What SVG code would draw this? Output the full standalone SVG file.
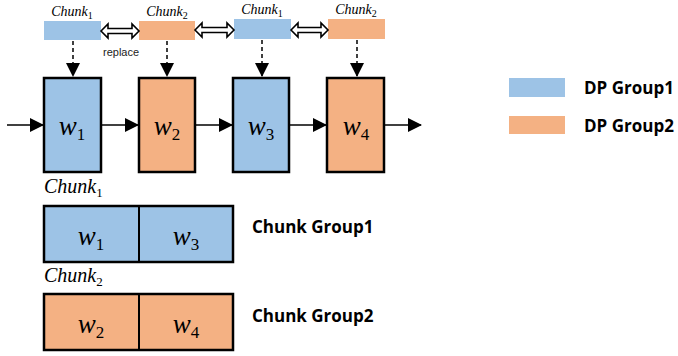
<svg xmlns="http://www.w3.org/2000/svg" width="678" height="356" viewBox="0 0 678 356">
<style>
.blue{fill:#9DC3E6}
.orange{fill:#F4B183}
.box{stroke:#000;stroke-width:2.5}
.math{font-family:"Liberation Serif","DejaVu Serif",serif;font-style:italic;fill:#000}
.w{font-size:27px;text-anchor:middle}
.sub{font-size:17px;font-style:normal}
.cl{font-size:14px}
.cl2{font-size:20px}
.lbl{font-family:"Open Sans","Liberation Sans",sans-serif;font-weight:bold;font-size:17px;fill:#000}
.dash{stroke:#000;stroke-width:1.5;stroke-dasharray:4,3;fill:none}
.line{stroke:#000;stroke-width:1.5;fill:none}
.dbl{fill:#fff;stroke:#000;stroke-width:1.6}
</style>
<defs>
<marker id="ah2" markerWidth="14" markerHeight="14" refX="13" refY="7" orient="auto" markerUnits="userSpaceOnUse" viewBox="0 0 14 14">
<path d="M0,0 L14,7 L0,14 Z" fill="#000"/>
</marker>
</defs>

<g id="chunk-bars">
<g id="bar1"><rect class="blue" x="44" y="21" width="57" height="19"/><text class="math cl" x="72" y="16" text-anchor="middle">Chunk<tspan font-size="10" font-style="normal" dy="3">1</tspan></text></g>
<g id="bar2"><rect class="orange" x="139" y="21" width="56" height="19"/><text class="math cl" x="167" y="16" text-anchor="middle">Chunk<tspan font-size="10" font-style="normal" dy="3">2</tspan></text></g>
<g id="bar3"><rect class="blue" x="234" y="19" width="57" height="20"/><text class="math cl" x="262" y="14" text-anchor="middle">Chunk<tspan font-size="10" font-style="normal" dy="3">1</tspan></text></g>
<g id="bar4"><rect class="orange" x="328" y="19" width="57" height="20"/><text class="math cl" x="356" y="14" text-anchor="middle">Chunk<tspan font-size="10" font-style="normal" dy="3">2</tspan></text></g>
</g>

<g id="w-boxes">
<g id="w1"><rect class="blue box" x="44" y="78" width="57" height="94"/><text class="math w" x="72" y="135">w<tspan class="sub" dy="5">1</tspan></text></g>
<g id="w2"><rect class="orange box" x="139" y="78" width="56" height="94"/><text class="math w" x="167" y="135">w<tspan class="sub" dy="5">2</tspan></text></g>
<g id="w3"><rect class="blue box" x="233" y="78" width="56" height="94"/><text class="math w" x="261" y="135">w<tspan class="sub" dy="5">3</tspan></text></g>
<g id="w4"><rect class="orange box" x="327" y="78" width="57" height="94"/><text class="math w" x="356" y="135">w<tspan class="sub" dy="5">4</tspan></text></g>
</g>

<g id="connectors">
<path class="dbl" d="M101,31 L108,24 L108,28.5 L132,28.5 L132,24 L139,31 L132,38 L132,33.5 L108,33.5 L108,38 Z"/>
<path class="dbl" d="M195,30 L202,23 L202,27.5 L227,27.5 L227,23 L234,30 L227,37 L227,32.5 L202,32.5 L202,37 Z"/>
<path class="dbl" d="M291,30 L298,23 L298,27.5 L321,27.5 L321,23 L328,30 L321,37 L321,32.5 L298,32.5 L298,37 Z"/>
<text x="103" y="56" font-family="'Liberation Sans',Arial,sans-serif" font-size="11" fill="#222">replace</text>
<line class="dash" x1="73" y1="41" x2="73" y2="76" marker-end="url(#ah2)"/>
<line class="dash" x1="167" y1="41" x2="167" y2="76" marker-end="url(#ah2)"/>
<line class="dash" x1="262" y1="40" x2="262" y2="76" marker-end="url(#ah2)"/>
<line class="dash" x1="357" y1="40" x2="357" y2="76" marker-end="url(#ah2)"/>
<line class="line" x1="7" y1="125" x2="43" y2="125" marker-end="url(#ah2)"/>
<line class="line" x1="102" y1="125" x2="138" y2="125" marker-end="url(#ah2)"/>
<line class="line" x1="196" y1="125" x2="232" y2="125" marker-end="url(#ah2)"/>
<line class="line" x1="290" y1="125" x2="326" y2="125" marker-end="url(#ah2)"/>
<line class="line" x1="385" y1="125" x2="421" y2="125" marker-end="url(#ah2)"/>
</g>

<g id="chunk-group1">
<text class="math cl2" x="44" y="193">Chunk<tspan font-size="13" font-style="normal" dy="4">1</tspan></text>
<rect class="blue box" x="44" y="206" width="189" height="56"/>
<line x1="139" y1="206" x2="139" y2="262" stroke="#000" stroke-width="2"/>
<text class="math w" x="91" y="245">w<tspan class="sub" dy="5">1</tspan></text>
<text class="math w" x="186" y="245">w<tspan class="sub" dy="5">3</tspan></text>
<text class="lbl" x="252" y="233">Chunk Group1</text>
</g>

<g id="chunk-group2">
<text class="math cl2" x="44" y="282">Chunk<tspan font-size="13" font-style="normal" dy="4">2</tspan></text>
<rect class="orange box" x="44" y="294" width="189" height="56"/>
<line x1="139" y1="294" x2="139" y2="350" stroke="#000" stroke-width="2"/>
<text class="math w" x="91" y="333">w<tspan class="sub" dy="5">2</tspan></text>
<text class="math w" x="186" y="333">w<tspan class="sub" dy="5">4</tspan></text>
<text class="lbl" x="252" y="322">Chunk Group2</text>
</g>

<g id="legend">
<g id="dp1"><rect class="blue" x="509" y="78" width="56" height="19"/><text class="lbl" x="584" y="94">DP Group1</text></g>
<g id="dp2"><rect class="orange" x="509" y="116" width="56" height="18"/><text class="lbl" x="584" y="132">DP Group2</text></g>
</g>
</svg>
